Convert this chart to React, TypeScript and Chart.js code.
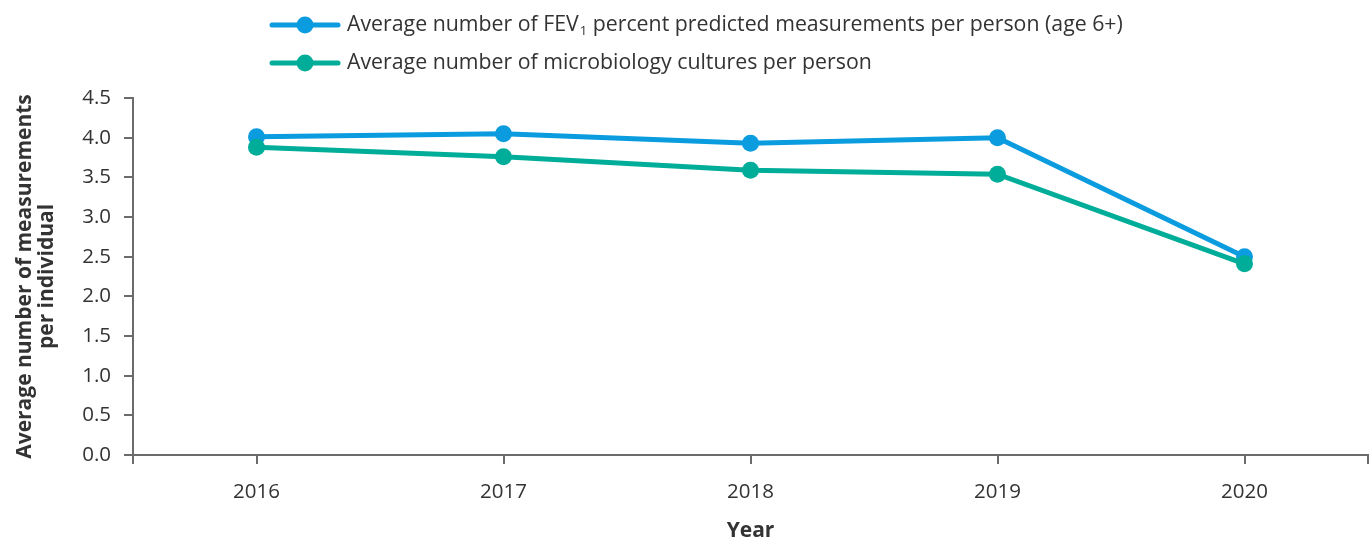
import React, { useEffect, useRef } from "react";
import { Chart, registerables } from "chart.js";

Chart.register(...registerables);

const years = [2016, 2017, 2018, 2019, 2020];
const fevValues = [4.01, 4.05, 3.93, 4.0, 2.5];
const cultureValues = [3.88, 3.76, 3.59, 3.54, 2.41];
const seriesLabels = [
  "Average number of FEV\u2081 percent predicted measurements per person (age 6+)",
  "Average number of microbiology cultures per person",
];
const seriesColors = ["#0A9CDE", "#00AD99"];
const yTitle = ["Average number of measurements", "per individual"];
const xTitle = "Year";

const FONT = "'Open Sans', 'Noto Sans', sans-serif";
const AXIS = "#6b6b6b";
const TEXT = "#333333";

const legendPlugin = {
  id: "customLegend",
  afterDraw(chart: any) {
    const ctx = chart.ctx;
    const x0 = 272;
    const rows = [25, 63];
    chart.data.datasets.forEach((ds: any, i: number) => {
      const y = rows[i];
      ctx.save();
      ctx.strokeStyle = ds.borderColor;
      ctx.lineWidth = 5;
      ctx.lineCap = "round";
      ctx.beginPath();
      ctx.moveTo(x0, y);
      ctx.lineTo(x0 + 66, y);
      ctx.stroke();
      ctx.fillStyle = ds.borderColor;
      ctx.beginPath();
      ctx.arc(x0 + 33, y, 8.5, 0, Math.PI * 2);
      ctx.fill();
      ctx.fillStyle = TEXT;
      ctx.textBaseline = "middle";
      ctx.textAlign = "left";
      const parts = String(ds.label).split("\u2081");
      let x = x0 + 75;
      ctx.font = `21.3px ${FONT}`;
      ctx.fillText(parts[0], x, y);
      x += ctx.measureText(parts[0]).width;
      if (parts.length > 1) {
        ctx.font = `13px ${FONT}`;
        ctx.fillText("1", x + 1, y + 6);
        x += ctx.measureText("1").width + 1;
        ctx.font = `21.3px ${FONT}`;
        ctx.fillText(parts[1], x, y);
      }
      ctx.restore();
    });
  },
};

export default function App() {
  const ref = useRef<HTMLCanvasElement | null>(null);
  useEffect(() => {
    document.body.style.margin = "0";
    const values = [fevValues, cultureValues];
    const chart = new Chart(ref.current as HTMLCanvasElement, {
      type: "line",
      data: {
        datasets: values.map((vals, i) => ({
          label: seriesLabels[i],
          data: years.map((yr, j) => ({ x: yr, y: vals[j] })),
          borderColor: seriesColors[i],
          backgroundColor: seriesColors[i],
          pointBackgroundColor: seriesColors[i],
          pointBorderWidth: 0,
          pointRadius: 8.5,
          borderWidth: 5,
          tension: 0,
          order: 1 - i,
        })),
      },
      options: {
        animation: false,
        responsive: false,
        layout: { autoPadding: false, padding: { top: 98, right: 2, left: 0, bottom: 0 } },
        plugins: { legend: { display: false }, tooltip: { enabled: false } },
        scales: {
          x: {
            type: "linear",
            min: years[0] - 0.5,
            max: years[years.length - 1] + 0.5,
            afterBuildTicks: (s: any) => {
              s.ticks = [years[0] - 0.5, ...years, years[years.length - 1] + 0.5].map((v) => ({ value: v }));
            },
            afterFit: (s: any) => {
              s.height = 84;
              s.paddingRight = 0;
              s.paddingLeft = 0;
            },
            ticks: {
              autoSkip: false,
              maxRotation: 0,
              callback: (v: any) => (Number.isInteger(v) ? String(v) : ""),
              font: { family: FONT, size: 20.5 },
              color: TEXT,
              padding: 16,
            },
            grid: { drawOnChartArea: false, tickLength: 9, color: AXIS, lineWidth: 2 },
            border: { color: AXIS, width: 2 },
            title: {
              display: true,
              text: xTitle,
              font: { family: FONT, size: 21, weight: "bold" },
              color: TEXT,
              padding: { top: 0, bottom: -5 },
            },
          },
          y: {
            min: 0,
            max: 4.5,
            afterFit: (s: any) => {
              s.width = 133;
            },
            ticks: {
              stepSize: 0.5,
              callback: (v: any) => Number(v).toFixed(1),
              font: { family: FONT, size: 20.5 },
              color: TEXT,
              padding: 13,
            },
            grid: { drawOnChartArea: false, tickLength: 9, color: AXIS, lineWidth: 2 },
            border: { color: AXIS, width: 2 },
            title: {
              display: true,
              text: yTitle,
              font: { family: FONT, size: 21, weight: "bold", lineHeight: 1.05 },
              color: TEXT,
              padding: { top: 14, bottom: 0 },
            },
          },
        },
      },
      plugins: [legendPlugin],
    } as any);
    return () => chart.destroy();
  }, []);
  return (
    <div style={{ width: 1370, height: 539 }}>
      <canvas ref={ref} width={1370} height={539} style={{ display: "block" }} />
    </div>
  );
}
